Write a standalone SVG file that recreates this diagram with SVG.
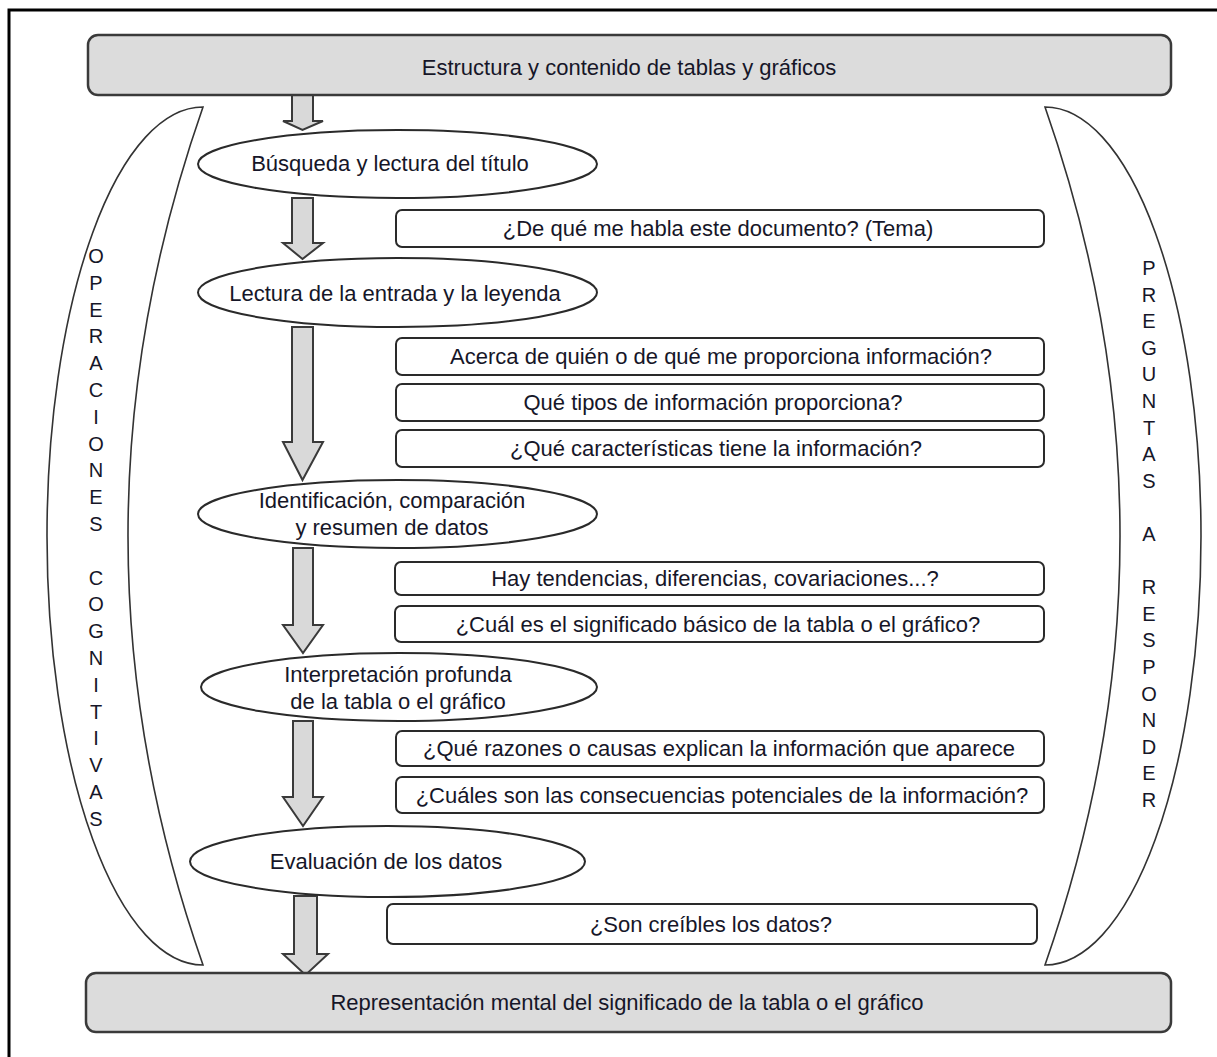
<svg xmlns="http://www.w3.org/2000/svg" width="1217" height="1057" viewBox="0 0 1217 1057">
<style>
.t{font-family:"Liberation Sans",Arial,sans-serif;font-size:22px;fill:#161628;text-anchor:middle}
.v{font-family:"Liberation Sans",Arial,sans-serif;font-size:20px;fill:#161628;text-anchor:middle}
.big{fill:#dcdcdc;stroke:#3a3a3a;stroke-width:2.5}
.box{fill:#fff;stroke:#2a2a2a;stroke-width:2}
.ell{fill:#fff;stroke:#2a2a2a;stroke-width:2}
.arr{fill:#d9d9d9;stroke:#3a3a3a;stroke-width:2;stroke-linejoin:miter}
.cres{fill:#fff;stroke:#333;stroke-width:1.6}
</style>
<rect width="1217" height="1057" fill="#fff"/>
<path d="M9 1057 V10 H1217" fill="none" stroke="#000" stroke-width="3"/>

<g id="crescent-left">
<path class="cres" d="M203 107 A156 429 0 0 0 203 965 Q53 536 203 107 Z"/>
<text class="v"><tspan x="96" y="263">O</tspan><tspan x="96" dy="26.8">P</tspan><tspan x="96" dy="26.8">E</tspan><tspan x="96" dy="26.8">R</tspan><tspan x="96" dy="26.8">A</tspan><tspan x="96" dy="26.8">C</tspan><tspan x="96" dy="26.8">I</tspan><tspan x="96" dy="26.8">O</tspan><tspan x="96" dy="26.8">N</tspan><tspan x="96" dy="26.8">E</tspan><tspan x="96" dy="26.8">S</tspan><tspan x="96" dy="53.6">C</tspan><tspan x="96" dy="26.8">O</tspan><tspan x="96" dy="26.8">G</tspan><tspan x="96" dy="26.8">N</tspan><tspan x="96" dy="26.8">I</tspan><tspan x="96" dy="26.8">T</tspan><tspan x="96" dy="26.8">I</tspan><tspan x="96" dy="26.8">V</tspan><tspan x="96" dy="26.8">A</tspan><tspan x="96" dy="26.8">S</tspan></text>
</g>

<g id="crescent-right">
<path class="cres" d="M1045 107 A156 429 0 0 1 1045 965 Q1195 536 1045 107 Z"/>
<text class="v"><tspan x="1149" y="275">P</tspan><tspan x="1149" dy="26.6">R</tspan><tspan x="1149" dy="26.6">E</tspan><tspan x="1149" dy="26.6">G</tspan><tspan x="1149" dy="26.6">U</tspan><tspan x="1149" dy="26.6">N</tspan><tspan x="1149" dy="26.6">T</tspan><tspan x="1149" dy="26.6">A</tspan><tspan x="1149" dy="26.6">S</tspan><tspan x="1149" dy="53.2">A</tspan><tspan x="1149" dy="53.2">R</tspan><tspan x="1149" dy="26.6">E</tspan><tspan x="1149" dy="26.6">S</tspan><tspan x="1149" dy="26.6">P</tspan><tspan x="1149" dy="26.6">O</tspan><tspan x="1149" dy="26.6">N</tspan><tspan x="1149" dy="26.6">D</tspan><tspan x="1149" dy="26.6">E</tspan><tspan x="1149" dy="26.6">R</tspan></text>
</g>

<g id="connectors">
<polygon class="arr" points="292,94 313,94 313,121 323,121 302.5,130 283,121 292,121"/>
<polygon class="arr" points="292,198 313,198 313,243 323,243 302.5,259 283,243 292,243"/>
<polygon class="arr" points="292,327 313,327 313,442 323,442 302.5,480 283,442 292,442"/>
<polygon class="arr" points="293,548 313,548 313,625 323,625 303,653 283,625 293,625"/>
<polygon class="arr" points="293,721 313,721 313,797 323,797 303,826 283,797 293,797"/>
<polygon class="arr" points="294,896 317,896 317,954 328,954 305.5,975 283,954 294,954"/>
</g>

<g id="n-top"><rect class="big" x="88" y="35" width="1083" height="60" rx="10"/><text class="t" x="629" y="75">Estructura y contenido de tablas y gráficos</text></g>
<g id="n-bottom"><rect class="big" x="86" y="973" width="1085" height="59" rx="10"/><text class="t" x="627" y="1010">Representación mental del significado de la tabla o el gráfico</text></g>

<g id="e1"><ellipse class="ell" cx="397.5" cy="164" rx="199.5" ry="34"/><text class="t" x="390" y="171">Búsqueda y lectura del título</text></g>
<g id="e2"><ellipse class="ell" cx="397.5" cy="292.5" rx="199.5" ry="34.5"/><text class="t" x="395" y="301">Lectura de la entrada y la leyenda</text></g>
<g id="e3"><ellipse class="ell" cx="397.5" cy="514" rx="199.5" ry="34"/><text class="t" x="392" y="508">Identificación, comparación</text><text class="t" x="392" y="535">y resumen de datos</text></g>
<g id="e4"><ellipse class="ell" cx="399" cy="687" rx="198" ry="34"/><text class="t" x="398" y="682">Interpretación profunda</text><text class="t" x="398" y="709">de la tabla o el gráfico</text></g>
<g id="e5"><ellipse class="ell" cx="387.5" cy="861.5" rx="197.5" ry="35.5"/><text class="t" x="386" y="869">Evaluación de los datos</text></g>

<g id="q1"><rect class="box" x="396" y="210" width="648" height="37" rx="6"/><text class="t" x="718" y="236">¿De qué me habla este documento? (Tema)</text></g>
<g id="q2"><rect class="box" x="396" y="338" width="648" height="37" rx="6"/><text class="t" x="721" y="364">Acerca  de quién o de qué me proporciona información?</text></g>
<g id="q3"><rect class="box" x="396" y="384" width="648" height="37" rx="6"/><text class="t" x="713" y="410">Qué tipos de información proporciona?</text></g>
<g id="q4"><rect class="box" x="396" y="430" width="648" height="37" rx="6"/><text class="t" x="716" y="456">¿Qué características tiene la información?</text></g>
<g id="q5"><rect class="box" x="395" y="562" width="649" height="33" rx="6"/><text class="t" x="715" y="586">Hay tendencias, diferencias, covariaciones...?</text></g>
<g id="q6"><rect class="box" x="395" y="606" width="649" height="36" rx="6"/><text class="t" x="718" y="632">¿Cuál es el significado básico de la tabla o el gráfico?</text></g>
<g id="q7"><rect class="box" x="396" y="731" width="648" height="35" rx="6"/><text class="t" x="719" y="756">¿Qué razones o causas explican la información que aparece</text></g>
<g id="q8"><rect class="box" x="396" y="777" width="648" height="36" rx="6"/><text class="t" x="722" y="803">¿Cuáles son las consecuencias potenciales de la información?</text></g>
<g id="q9"><rect class="box" x="387" y="904" width="650" height="40" rx="6"/><text class="t" x="711" y="932">¿Son creíbles los datos?</text></g>
</svg>
